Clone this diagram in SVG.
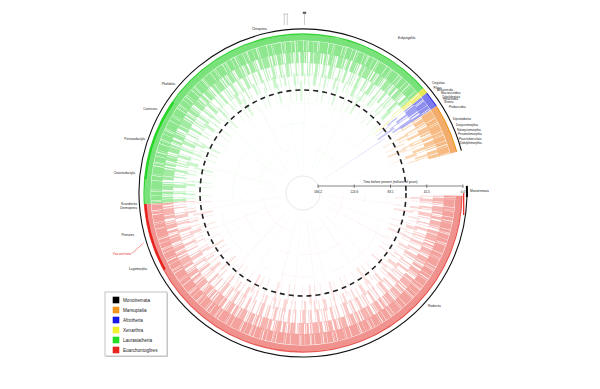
<svg xmlns="http://www.w3.org/2000/svg" width="600" height="389" viewBox="0 0 600 389">
<defs>
<clipPath id="cRed"><polygon points="0,0 199.97,3.49 141.42,141.42 0,200 -141.42,141.42 -199.51,13.95"/></clipPath>
<clipPath id="cGreen"><polygon points="0,0 -199.51,13.95 -141.42,-141.42 0,-200 150.94,-131.21"/></clipPath>
<clipPath id="cYellow"><polygon points="0,0 150.94,-131.21 155.43,-125.86"/></clipPath>
<clipPath id="cBlue"><polygon points="0,0 155.43,-125.86 167.73,-108.93"/></clipPath>
<clipPath id="cOrange"><polygon points="0,0 167.73,-108.93 193.19,-51.76"/></clipPath>
</defs>
<style>
.lbl{font-family:"Liberation Sans",Arial,sans-serif;font-size:3.2px;fill:#222}
.sm{font-size:3px}
.leg{font-family:"Liberation Sans",Arial,sans-serif;font-size:4.6px;fill:#222}
circle{fill:none}
.l5{stroke-width:72;stroke-dasharray:0.3 7 0.4 13 0.3 9.5 0.5 18 0.3 11 0.4 21}
.l4{stroke-width:20;stroke-dasharray:0.6 4.2 1.1 7.4 0.4 3.1 1.8 9.6 0.7 5.3 0.9 3.7 2.2 6.8 0.5 8.1}
.l3b{stroke-width:12;stroke-dasharray:0.8 3.4 1.6 2.2 0.5 5.1 2.1 1.8 0.7 6.3 1.1 2.9 0.6 4.4 3.2 3.8}
.l3{stroke-width:14;stroke-dasharray:1.2 1.6 0.6 2.4 2.7 1.1 0.5 3.2 1.8 0.9 0.7 2.8 3.5 1.4 0.8 4.1 1.3 1.7 0.5 2.2 2.4 3.6 0.9 1.2}
.l2{stroke-width:12;stroke-dasharray:2.3 0.6 0.8 1.1 3.9 0.4 1.5 0.9 0.6 1.4 5.2 0.5 1.9 1.2 0.7 0.6 2.8 1.6 4.4 0.5 1.2 0.8 0.9 2.1 3.3 0.6 6.5 0.9 1.4 1.3}
.l1{stroke-width:11;stroke-dasharray:4.2 0.4 1.3 0.3 7.5 0.6 2.1 0.3 0.9 0.5 5.4 0.4 3.2 0.8 1.6 0.3 6.1 0.5 2.7 0.4 0.8 0.6 4.9 0.3 3.6 0.7 1.1 0.4 8.3 0.5}
.l0{stroke-width:6}
.ed{stroke-width:1.3}
.ia{stroke-width:0.5;stroke-dasharray:30 12 8 25 45 10 14 20}
.green circle{stroke-dashoffset:13}
.blue circle,.orange circle{stroke-dashoffset:5}
.red .l5,.red .ia{stroke:#fcecec}.red .l4{stroke:#fce2e1}.red .l3b{stroke:#fad6d4}.red .l3{stroke:#f8c9c6}.red .l2{stroke:#f6b5b1}.red .l1{stroke:#f3a29d}.red .l0{stroke:#f0928d}.red .ed{stroke:#ea5a55}
.green .l5,.green .ia{stroke:#ebfbeb}.green .l4{stroke:#dcf8dc}.green .l3b{stroke:#cbf5cb}.green .l3{stroke:#bbf1bb}.green .l2{stroke:#a3eba3}.green .l1{stroke:#8ee68e}.green .l0{stroke:#7ae27a}.green .ed{stroke:#3ad43a}
.yellow .l5,.yellow .ia{stroke:#fbfbd8}.yellow .l4{stroke:#f9f9c4}.yellow .l3b{stroke:#f7f7b0}.yellow .l3{stroke:#f5f59c}.yellow .l2{stroke:#f1f182}.yellow .l1{stroke:#eded6c}.yellow .l0{stroke:#e8e856}.yellow .ed{stroke:#dede22}
.blue .l5,.blue .ia{stroke:#dcdcfa}.blue .l4{stroke:#c8c8f7}.blue .l3b{stroke:#bcbcf6}.blue .l3{stroke:#b0b0f4}.blue .l2{stroke:#a0a0f2}.blue .l1{stroke:#8e8eef}.blue .l0{stroke:#7c7cec}.blue .ed{stroke:#3a3ae0}
.orange .l5,.orange .ia{stroke:#fdf0e2}.orange .l4{stroke:#fce4cc}.orange .l3b{stroke:#fbdbbb}.orange .l3{stroke:#fad3ab}.orange .l2{stroke:#f8c696}.orange .l1{stroke:#f6b982}.orange .l0{stroke:#f4ac6c}.orange .ed{stroke:#ef951e}
</style>
<rect width="600" height="389" fill="#fff"/>
<g id="tree" transform="translate(303,193)">
  <circle r="17" stroke="#d6d6d6" stroke-width="0.6"/>
  <g id="euarchontoglires" class="red" clip-path="url(#cRed)">
    <circle class="ia" r="40"/><circle class="ia" r="62" style="stroke-dashoffset:20"/><circle class="ia" r="84" style="stroke-dashoffset:40"/>
    <circle class="l5" r="62"/><circle class="l4" r="102"/><circle class="l3b" r="114"/><circle class="l3" r="124"/><circle class="l2" r="136"/><circle class="l1" r="146.5"/><circle class="l0" r="155.5"/><circle class="ed" r="159"/>
  </g>
  <g id="laurasiatheria" class="green" clip-path="url(#cGreen)">
    <circle class="ia" r="45"/><circle class="ia" r="70" style="stroke-dashoffset:25"/><circle class="ia" r="90" style="stroke-dashoffset:7"/>
    <circle class="l5" r="62"/><circle class="l4" r="102"/><circle class="l3b" r="114"/><circle class="l3" r="124"/><circle class="l2" r="136"/><circle class="l1" r="146.5"/><circle class="l0" r="155.5"/><circle class="ed" r="159"/>
  </g>
  <g id="xenarthra" class="yellow" clip-path="url(#cYellow)">
    <circle class="l4" r="102"/><circle class="l3b" r="114"/><circle class="l3" r="124"/><circle class="l2" r="136"/><circle class="l1" r="146.5"/><circle class="l0" r="155.5"/><circle class="ed" r="159"/>
  </g>
  <g id="afrotheria" class="blue" clip-path="url(#cBlue)">
    <circle class="l5" r="62"/><circle class="l4" r="102"/><circle class="l3b" r="114"/><circle class="l3" r="124"/><circle class="l2" r="136"/><circle class="l1" r="146.5"/><circle class="l0" r="155.5"/><circle class="ed" r="159"/>
  </g>
  <g id="marsupialia" class="orange" clip-path="url(#cOrange)">
    <circle class="l5" r="62"/><circle class="l4" r="102"/><circle class="l3b" r="114"/><circle class="l3" r="124"/><circle class="l2" r="136"/><circle class="l1" r="146.5"/><circle class="l0" r="155.5"/><circle class="ed" r="159"/>
  </g>
  <path d="M-138.19,76.6 A158,158 0 0 1 -157.61,11.02" fill="none" stroke="#e8201b" stroke-width="2.2"/>
  <path d="M-157.4,-13.77 A158,158 0 0 1 -129.43,-90.62" fill="none" stroke="#22d822" stroke-width="1.8"/>
  <path d="M160.7,0 L160.7,22" fill="none" stroke="#e8201b" stroke-width="1.2"/>
  <circle r="103" stroke="#222" stroke-width="1.6" stroke-dasharray="5 4"/>
  <path d="M163.94,4.29 A164,164 0 1 1 158.41,-42.45" fill="none" stroke="#111" stroke-width="1.1"/>
  <path d="M163.84,-7.15 A164,164 0 0 1 163.94,4.29" fill="none" stroke="#000" stroke-width="2"/>
</g>
<g id="marks" fill="none" stroke="#aaa" stroke-width="0.6">
  <path d="M283.3 14h5M284.3 14v11M287.3 14v11M304.5 14v11"/>
  <rect x="302.8" y="11.8" width="3.4" height="2" fill="#555" stroke="none"/>
</g>
<g id="axis">
  <line x1="318" y1="186" x2="463" y2="186" stroke="#333" stroke-width="0.6"/>
  <path d="M318 184.5v3.5M354.25 184.5v3.5M390.5 184.5v3.5M426.75 184.5v3.5M463 184.5v3.5" stroke="#333" stroke-width="0.6"/>
  <text class="lbl" x="390.5" y="182.6" text-anchor="middle">Time before present (millions of years)</text>
  <g class="lbl" text-anchor="middle">
    <text x="318" y="192.5">166.2</text><text x="354.25" y="192.5">124.6</text><text x="390.5" y="192.5">83.1</text><text x="426.75" y="192.5">41.5</text><text x="463" y="192.5">0.0</text>
  </g>
</g>
<g id="labels" class="lbl">
  <text x="252" y="30">Chiroptera</text>
  <text x="398" y="38.5">Eulipotyphla</text>
  <g text-anchor="end">
    <text x="175" y="85">Pholidota</text>
    <text x="157" y="110">Carnivora</text>
    <text x="145" y="140">Perissodactyla</text>
    <text x="135" y="174">Cetartiodactyla</text>
    <text x="137" y="204.8">Scandentia</text>
    <text x="137" y="209">Dermoptera</text>
    <text x="134" y="236">Primates</text>
    <text x="131" y="255" style="fill:#e8201b">You are here</text>
    <text x="147" y="270">Lagomorpha</text>
  </g>
  <text x="428" y="307">Rodentia</text>
  <text x="470" y="191.5">Monotremata</text>
  <g class="sm">
    <text x="432" y="84">Cingulata</text>
    <text x="433.5" y="88.5">Pilosa</text>
    <text x="437" y="91.2">Afrosoricida</text>
    <text x="441" y="94">Macroscelidea</text>
    <text x="442" y="97.8">Tubulidentata</text>
    <text x="443" y="100.3">Hyracoidea</text>
    <text x="444" y="103">Sirenia</text>
    <text x="449" y="108">Proboscidea</text>
    <text x="453" y="120">Diprotodontia</text>
    <text x="456" y="126">Dasyuromorphia</text>
    <text x="457" y="131">Notoryctemorphia</text>
    <text x="458" y="135.3">Peramelemorphia</text>
    <text x="459" y="140">Paucituberculata</text>
    <text x="460" y="144.3">Didelphimorphia</text>
  </g>
</g>
<line x1="131.5" y1="253.8" x2="143.5" y2="243" stroke="#e8201b" stroke-width="0.5"/>
<g id="legend">
  <rect x="106" y="293" width="62" height="64" fill="#d8d8d8"/>
  <rect x="105" y="292" width="62" height="64" fill="#fff" stroke="#999" stroke-width="0.6"/>
  <rect x="112.7" y="296.7" width="6.6" height="6.6" fill="#000"/>
  <rect x="112.7" y="306.7" width="6.6" height="6.6" fill="#f0961e"/>
  <rect x="112.7" y="316.7" width="6.6" height="6.6" fill="#1a1ae6"/>
  <rect x="112.7" y="326.7" width="6.6" height="6.6" fill="#f2f22a"/>
  <rect x="112.7" y="336.7" width="6.6" height="6.6" fill="#22dd22"/>
  <rect x="112.7" y="346.7" width="6.6" height="6.6" fill="#e8221c"/>
  <g class="leg">
    <text x="123" y="301.6">Monotremata</text>
    <text x="123" y="311.6">Marsupialia</text>
    <text x="123" y="321.6">Afrotheria</text>
    <text x="123" y="331.6">Xenarthra</text>
    <text x="123" y="341.6">Laurasiatheria</text>
    <text x="123" y="351.6">Euarchontoglires</text>
  </g>
</g>
</svg>
